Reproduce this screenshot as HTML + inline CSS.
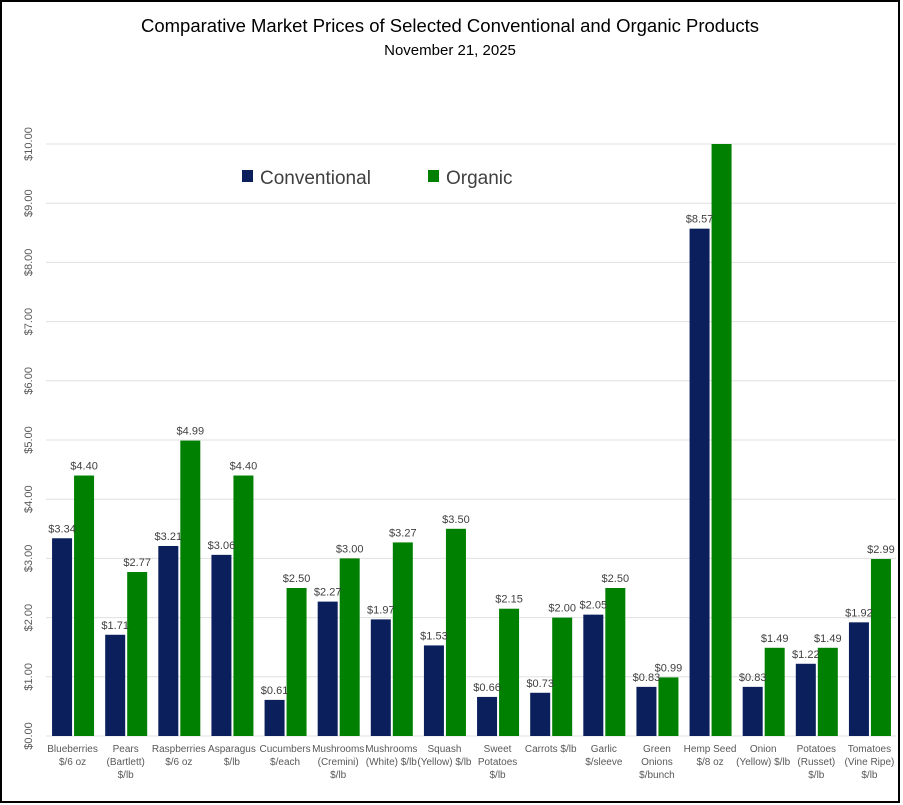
<!DOCTYPE html>
<html><head><meta charset="utf-8"><style>
body{margin:0;background:#fff;}
svg{display:block;font-family:"Liberation Sans",sans-serif;}
</style></head><body>
<svg id="c" width="903" height="805">
<rect x="1" y="1" width="898" height="801" fill="#fff" stroke="#000" stroke-width="2"/>
<text x="450" y="32" text-anchor="middle" font-size="18.5" fill="#000">Comparative Market Prices of Selected Conventional and Organic Products</text>
<text x="450" y="55" text-anchor="middle" font-size="15" fill="#000">November 21, 2025</text>
<g id="grid"></g><g id="bars"></g><g id="labels"></g>
<rect x="242" y="170" width="11" height="12" fill="#0a1f5c"/>
<text x="260" y="184" font-size="19" fill="#404040">Conventional</text>
<rect x="428" y="170" width="11" height="12" fill="#008000"/>
<text x="446" y="184" font-size="19" fill="#404040">Organic</text>
</svg>
<script>
const categories=[["Blueberries","$/6 oz"],["Pears","(Bartlett)","$/lb"],["Raspberries","$/6 oz"],["Asparagus","$/lb"],["Cucumbers","$/each"],["Mushrooms","(Cremini)","$/lb"],["Mushrooms","(White) $/lb"],["Squash","(Yellow) $/lb"],["Sweet","Potatoes","$/lb"],["Carrots $/lb"],["Garlic","$/sleeve"],["Green","Onions","$/bunch"],["Hemp Seed","$/8 oz"],["Onion","(Yellow) $/lb"],["Potatoes","(Russet)","$/lb"],["Tomatoes","(Vine Ripe)","$/lb"]];
const conventional=[3.34,1.71,3.21,3.06,0.61,2.27,1.97,1.53,0.66,0.73,2.05,0.83,8.57,0.83,1.22,1.92];
const organic=[4.40,2.77,4.99,4.40,2.50,3.00,3.27,3.50,2.15,2.00,2.50,0.99,10.00,1.49,1.49,2.99];
const organicLabelShown=[1,1,1,1,1,1,1,1,1,1,1,1,0,1,1,1];
const ticks=[0,1,2,3,4,5,6,7,8,9,10];
const NS="http://www.w3.org/2000/svg";
const x0=46,x1=896,y0=736,yTop=144,maxV=10;
const y=v=>y0-(v/maxV)*(y0-yTop);
const bw=(x1-x0)/categories.length;
function mk(t,a,p,txt){const e=document.createElementNS(NS,t);for(const k in a)e.setAttribute(k,a[k]);if(txt!==undefined)e.textContent=txt;p.appendChild(e);return e;}
const G=document.getElementById('grid'),B=document.getElementById('bars'),L=document.getElementById('labels');
ticks.forEach(t=>{
 const l=mk('line',{x1:x0,x2:x1,y1:y(t),y2:y(t),stroke:'#e0e0e0','stroke-width':1},G);
 
 
 const tx=mk('text',{x:0,y:0,'font-size':11,fill:'#595959','text-anchor':'middle',transform:`translate(32,${y(t)}) rotate(-90)`},G,'$'+t.toFixed(2));
 
 
});
const fmt=v=>'$'+v.toFixed(2);
categories.forEach((c,i)=>{
 const cx=x0+bw*(i+0.5);
 const r1=mk('rect',{x:cx-20.5,y:y(conventional[i]),width:20,height:y0-y(conventional[i]),fill:'#0a1f5c'},B);
 
 
 const r2=mk('rect',{x:cx+1.5,y:y(organic[i]),width:20,height:y0-y(organic[i]),fill:'#008000'},B);
 
 
 const t1=mk('text',{x:cx-10.5,y:y(conventional[i])-6,'font-size':11,fill:'#404040','text-anchor':'middle'},L,fmt(conventional[i]));
 
 
 if(organicLabelShown[i]){
 const t2=mk('text',{x:cx+11.5,y:y(organic[i])-6,'font-size':11,fill:'#404040','text-anchor':'middle'},L,fmt(organic[i]));
 
 }
 c.forEach((line,j)=>{
  const t=mk('text',{x:cx,y:752+j*13,'font-size':10,fill:'#595959','text-anchor':'middle'},L,line);
  
  
 });
});
</script>
</body></html>
